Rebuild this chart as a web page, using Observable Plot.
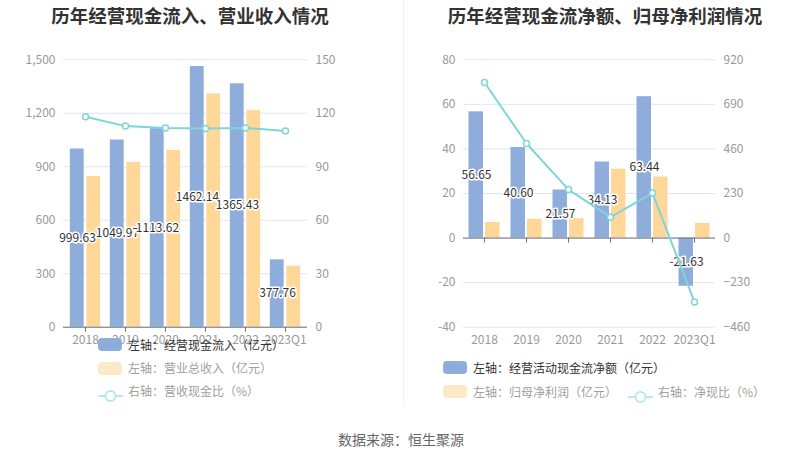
<!DOCTYPE html>
<html><head><meta charset="utf-8">
<script src="https://cdn.jsdelivr.net/npm/d3@7"></script>
<script src="https://cdn.jsdelivr.net/npm/@observablehq/plot@0.6"></script>
<style>
body{margin:0;background:#fff;font-family:"Noto Sans CJK SC","Noto Sans",sans-serif;}
#root{position:relative;width:802px;height:459px;overflow:hidden;background:#fff;}
.abs{position:absolute;}
.title{font-size:18.5px;font-weight:bold;color:#333;transform:translateX(-50%);white-space:nowrap;line-height:30px;top:0;}
.lt{font-size:12px;line-height:16px;white-space:nowrap;}
.sw{width:24px;height:13px;border-radius:4px;}
svg.plot{position:absolute;top:0;}
</style></head>
<body><div id="root"></div>
<script>
const years = ["2018","2019","2020","2021","2022","2023Q1"];
// left panel
const cashInflow = [999.63,1049.97,1113.62,1462.14,1365.43,377.76];
const revenue = [845,925,991,1309,1215,342];
const cashRevenueRatio = [118.0,112.8,111.8,111.5,111.8,110.0];
const leftTicksL = [0,300,600,900,1200,1500];
const leftTicksR = [0,30,60,90,120,150];
// right panel
const netCashFlow = [56.65,40.60,21.57,34.13,63.44,-21.63];
const netProfit = [7.0,8.4,8.7,30.9,27.4,6.6];
const netCashRatio = [803,488,250,108,232,-330];
const rightTicksL = [-40,-20,0,20,40,60,80];
const rightTicksR = [-460,-230,0,230,460,690,920];

const BLUE = "#8eaddb", ORANGE = "#ffd899", TEAL = "#7fd5d8";
const H = 360, MT = 59.3, MB = H - 326.7;
const style = {fontFamily:'"Noto Sans CJK SC","Noto Sans",sans-serif', fontSize:"12px", color:"#999", background:"transparent", overflow:"visible"};

function barsPlot({width, ml, mr, a, b, ticks, fmt}) {
  const bw = (width - ml - mr) / years.length;
  const rows = years.map((y, i) => ({year: y, a: a[i], b: b[i]}));
  return Plot.plot({
    width, height: H, marginTop: MT, marginBottom: MB, marginLeft: ml, marginRight: mr, style,
    x: {type: "band", domain: years, padding: 0, tickSize: 0, tickPadding: 8, label: null},
    y: {domain: [ticks[0], ticks[ticks.length - 1]], ticks, tickSize: 0, tickPadding: 8, tickFormat: fmt, label: null},
    marks: [
      Plot.ruleY(ticks, {stroke: "#e0e6f1"}),
      Plot.barY(rows, {x: "year", y: "a", fill: BLUE, insetLeft: bw / 2 - 15.5, insetRight: bw / 2 + 1}),
      Plot.barY(rows, {x: "year", y: "b", fill: ORANGE, insetLeft: bw / 2 + 1, insetRight: bw / 2 - 15.5}),
      Plot.ruleY([0], {stroke: "#6e7079"}),
      Plot.ruleX(years, {x: d => d, y1: () => 0, y2: () => 0, insetBottom: -5, stroke: "#6e7079"}),
      Plot.text(rows, {x: "year", y: d => d.a / 2, text: d => d.a.toFixed(2), dx: -8, fontSize: 12, fill: "#333", stroke: "white", strokeWidth: 3, paintOrder: "stroke"})
    ]
  });
}
function linePlot({width, ml, mr, vals, ticks}) {
  const rows = years.map((y, i) => ({year: y, v: vals[i]}));
  return Plot.plot({
    width, height: H, marginTop: MT, marginBottom: MB, marginLeft: ml, marginRight: mr, style,
    x: {type: "band", domain: years, padding: 0, axis: null},
    y: {domain: [ticks[0], ticks[ticks.length - 1]], ticks, axis: "right", tickSize: 0, tickPadding: 8, label: null},
    marks: [
      Plot.line(rows, {x: "year", y: "v", stroke: TEAL, strokeWidth: 2}),
      Plot.dot(rows, {x: "year", y: "v", r: 3, fill: "white", stroke: TEAL, strokeWidth: 1.5})
    ]
  });
}

const root = document.getElementById("root");
function add(el, left) { el.classList.add("plot"); el.style.left = left + "px"; root.appendChild(el); }
add(barsPlot({width: 400, ml: 63, mr: 93, a: cashInflow, b: revenue, ticks: leftTicksL, fmt: d3.format(",")}), 0);
add(linePlot({width: 400, ml: 63, mr: 93, vals: cashRevenueRatio, ticks: leftTicksR}), 0);
add(barsPlot({width: 402, ml: 63, mr: 87, a: netCashFlow, b: netProfit, ticks: rightTicksL, fmt: d => String(d)}), 400);
add(linePlot({width: 402, ml: 63, mr: 87, vals: netCashRatio, ticks: rightTicksR}), 400);

function div(cls, css, html) {
  const d = document.createElement("div");
  d.className = "abs " + cls;
  Object.assign(d.style, css);
  if (html) d.innerHTML = html;
  root.appendChild(d);
  return d;
}
div("title", {left: "190px"}, "历年经营现金流入、营业收入情况");
div("title", {left: "605px"}, "历年经营现金流净额、归母净利润情况");
div("", {left: "403px", top: "0px", width: "1px", height: "405px", background: "#f0f0f0"});

function swatch(x, cy, color) { div("sw", {left: x + "px", top: (cy - 6.5) + "px", background: color}); }
function lineIcon(x, cy, color) {
  div("", {left: x + "px", top: (cy - 7) + "px", width: "25px", height: "14px"},
    `<svg width="25" height="14"><line x1="0" y1="7" x2="25" y2="7" stroke="${color}" stroke-width="2"/><circle cx="12.5" cy="7" r="5" fill="white" stroke="${color}" stroke-width="2"/></svg>`);
}
function label(x, cy, text, color) { div("lt", {left: x + "px", top: (cy - 8) + "px", color}, text); }

swatch(98, 344.5, BLUE); label(128, 345, "左轴：经营现金流入（亿元）", "#333");
swatch(98, 368, "#fde9c8"); label(128, 368, "左轴：营业总收入（亿元）", "#a0a0a0");
lineIcon(98, 391, "#b8e9eb"); label(128, 391, "右轴：营收现金比（%）", "#a0a0a0");

swatch(443, 367.5, BLUE); label(473, 367.5, "左轴：经营活动现金流净额（亿元）", "#333");
swatch(443, 391.5, "#fde9c8"); label(473, 391.5, "左轴：归母净利润（亿元）", "#a0a0a0");
lineIcon(628, 391.5, "#b8e9eb"); label(658, 391.5, "右轴：净现比（%）", "#a0a0a0");

div("", {left: "401px", top: "430px", transform: "translateX(-50%)", fontSize: "14px", lineHeight: "18px", color: "#666", whiteSpace: "nowrap"}, "数据来源：恒生聚源");
</script>
</body></html>
